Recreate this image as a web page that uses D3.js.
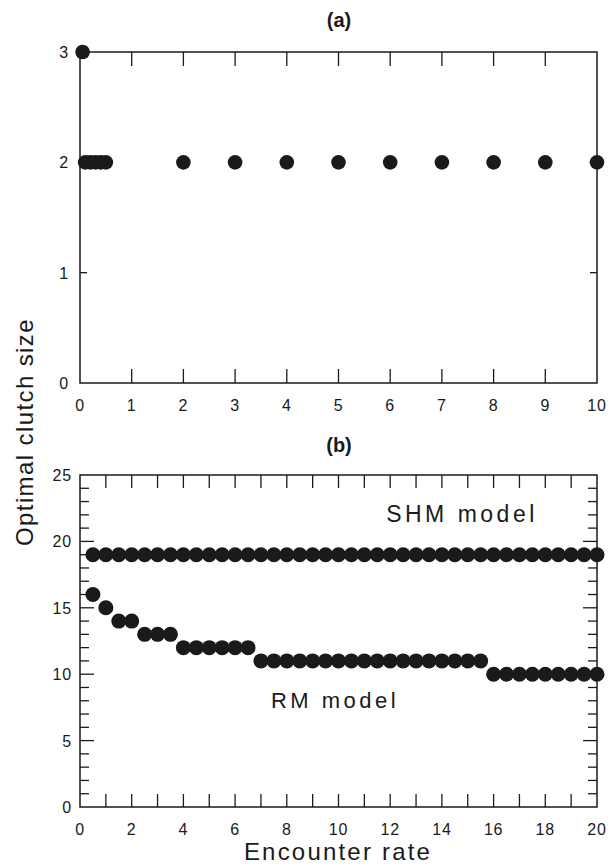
<!DOCTYPE html>
<html><head><meta charset="utf-8">
<script src="https://cdn.jsdelivr.net/npm/d3@7/dist/d3.min.js"></script>
<style>body{margin:0;background:#fff}svg{display:block}</style>
</head><body>
<script>
// Panel (a)
const aX = [0.05, 0.1, 0.2, 0.3, 0.4, 0.5, 2, 3, 4, 5, 6, 7, 8, 9, 10];
const aY = [3, 2, 2, 2, 2, 2, 2, 2, 2, 2, 2, 2, 2, 2, 2];
const aXTicks = [0,1,2,3,4,5,6,7,8,9,10];
const aYTicks = [0,1,2,3];
// Panel (b)
const bX = [0.5,1,1.5,2,2.5,3,3.5,4,4.5,5,5.5,6,6.5,7,7.5,8,8.5,9,9.5,10,10.5,11,11.5,12,12.5,13,13.5,14,14.5,15,15.5,16,16.5,17,17.5,18,18.5,19,19.5,20];
const shmY = [19,19,19,19,19,19,19,19,19,19,19,19,19,19,19,19,19,19,19,19,19,19,19,19,19,19,19,19,19,19,19,19,19,19,19,19,19,19,19,19];
const rmY = [16,15,14,14,13,13,13,12,12,12,12,12,12,11,11,11,11,11,11,11,11,11,11,11,11,11,11,11,11,11,11,10,10,10,10,10,10,10,10,10];
const bXTicks = [0,2,4,6,8,10,12,14,16,18,20];
const bYTicks = [0,5,10,15,20,25];

const W = 609, H = 865;
const svg = d3.select("body").append("svg").attr("width", W).attr("height", H);
const font = "'Liberation Sans', Arial, sans-serif";
const ink = "#1a1a1a";

function frame(g, x, y) {
  const [x0, x1] = x.range(), [y0, y1] = y.range();
  g.append("rect").attr("x", x0).attr("y", y1).attr("width", x1 - x0).attr("height", y0 - y1)
    .attr("fill", "none").attr("stroke", ink).attr("stroke-width", 1.5);
}
function xTicks(g, x, y, vals, len) {
  const [y0, y1] = y.range();
  vals.forEach(v => {
    g.append("line").attr("x1", x(v)).attr("x2", x(v)).attr("y1", y0).attr("y2", y0 - len).attr("stroke", ink).attr("stroke-width", 1.3);
    g.append("line").attr("x1", x(v)).attr("x2", x(v)).attr("y1", y1).attr("y2", y1 + len).attr("stroke", ink).attr("stroke-width", 1.3);
  });
}
function yTicks(g, x, y, vals, len) {
  const [x0, x1] = x.range();
  vals.forEach(v => {
    g.append("line").attr("x1", x0).attr("x2", x0 + len).attr("y1", y(v)).attr("y2", y(v)).attr("stroke", ink).attr("stroke-width", 1.3);
    g.append("line").attr("x1", x1).attr("x2", x1 - len).attr("y1", y(v)).attr("y2", y(v)).attr("stroke", ink).attr("stroke-width", 1.3);
  });
}
function labelsX(g, x, y, vals) {
  g.selectAll(null).data(vals).enter().append("text")
    .attr("x", d => x(d)).attr("y", y.range()[0] + 28).attr("text-anchor", "middle")
    .attr("font-family", font).attr("font-size", 16).attr("letter-spacing", 0.8).attr("fill", ink).text(d => d);
}
function labelsY(g, x, y, vals, gap) {
  g.selectAll(null).data(vals).enter().append("text")
    .attr("x", x.range()[0] - gap).attr("y", d => y(d) + 6).attr("text-anchor", "end")
    .attr("font-family", font).attr("font-size", 16).attr("letter-spacing", 0.8).attr("fill", ink).text(d => d);
}

// Panel (a)
const xa = d3.scaleLinear().domain([0, 10]).range([80, 597]);
const ya = d3.scaleLinear().domain([0, 3]).range([383, 52]);
const ga = svg.append("g");
frame(ga, xa, ya);
xTicks(ga, xa, ya, d3.range(1, 10), 14);
yTicks(ga, xa, ya, [1, 2], 7);
labelsX(ga, xa, ya, aXTicks);
labelsY(ga, xa, ya, aYTicks, 11);
ga.selectAll("circle").data(aX.map((v, i) => [v, aY[i]])).enter().append("circle")
  .attr("cx", d => xa(d[0])).attr("cy", d => ya(d[1])).attr("r", 7.3).attr("fill", ink);
svg.append("text").attr("x", 339).attr("y", 27).attr("text-anchor", "middle")
  .attr("font-family", font).attr("font-size", 20).attr("font-weight", "bold").attr("fill", ink).text("(a)");

// Panel (b)
const xb = d3.scaleLinear().domain([0, 20]).range([80, 597]);
const yb = d3.scaleLinear().domain([0, 25]).range([807, 475]);
const gb = svg.append("g");
frame(gb, xb, yb);
xTicks(gb, xb, yb, d3.range(1, 20), 13);
yTicks(gb, xb, yb, d3.range(1, 25).filter(v => v % 5 !== 0), 9);
yTicks(gb, xb, yb, [5, 10, 15, 20], 14);
labelsX(gb, xb, yb, bXTicks);
labelsY(gb, xb, yb, bYTicks, 8);
gb.selectAll("circle.shm").data(bX.map((v, i) => [v, shmY[i]])).enter().append("circle")
  .attr("cx", d => xb(d[0])).attr("cy", d => yb(d[1])).attr("r", 7.5).attr("fill", ink);
gb.selectAll("circle.rm").data(bX.map((v, i) => [v, rmY[i]])).enter().append("circle")
  .attr("cx", d => xb(d[0])).attr("cy", d => yb(d[1])).attr("r", 7.5).attr("fill", ink);
svg.append("text").attr("x", 339).attr("y", 452).attr("text-anchor", "middle")
  .attr("font-family", font).attr("font-size", 20).attr("font-weight", "bold").attr("fill", ink).text("(b)");
svg.append("text").attr("x", 462).attr("y", 522).attr("text-anchor", "middle")
  .attr("font-family", font).attr("font-size", 23).attr("letter-spacing", 3.5).attr("fill", ink).text("SHM model");
svg.append("text").attr("x", 335).attr("y", 708).attr("text-anchor", "middle")
  .attr("font-family", font).attr("font-size", 22).attr("letter-spacing", 3.5).attr("fill", ink).text("RM model");

// Axis titles
svg.append("text").attr("transform", "translate(33,432) rotate(-90)").attr("text-anchor", "middle")
  .attr("font-family", font).attr("font-size", 24).attr("letter-spacing", 1.4).attr("fill", ink).text("Optimal clutch size");
svg.append("text").attr("x", 338).attr("y", 860).attr("text-anchor", "middle")
  .attr("font-family", font).attr("font-size", 24).attr("letter-spacing", 2.2).attr("fill", ink).text("Encounter rate");
</script>
</body></html>
